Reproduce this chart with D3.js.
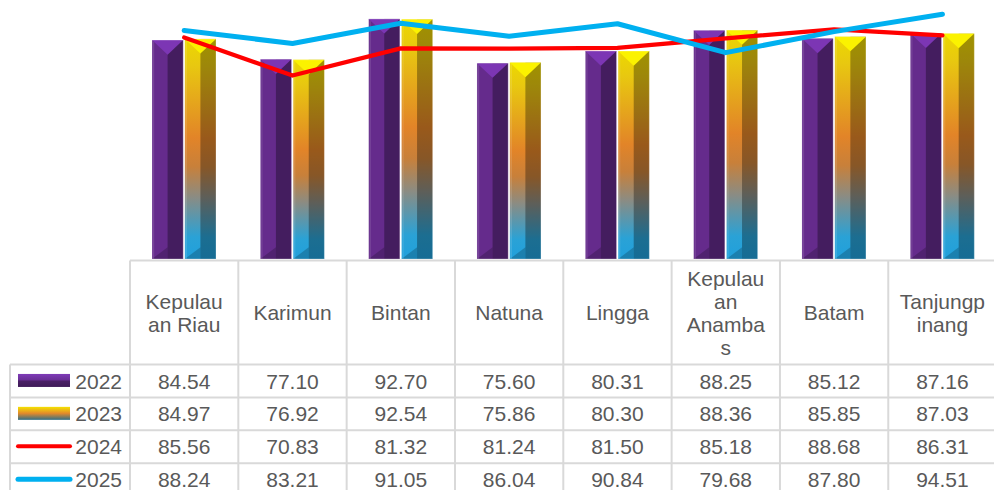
<!DOCTYPE html>
<html>
<head>
<meta charset="utf-8">
<script src="https://cdn.jsdelivr.net/npm/d3@7/dist/d3.min.js"></script>
<style>
  html, body { margin: 0; padding: 0; background: #ffffff; }
  svg { display: block; }
  text { font-family: "Liberation Sans", Arial, sans-serif; fill: #595959; }
</style>
</head>
<body>
<svg id="chart" width="994" height="490"></svg>
<script>
const categories = ["Kepulauan Riau", "Karimun", "Bintan", "Natuna", "Lingga", "Kepulauan Anambas", "Batam", "Tanjungpinang"];
const seriesNames = ["2022", "2023", "2024", "2025"];
const values2022 = [84.54, 77.10, 92.70, 75.60, 80.31, 88.25, 85.12, 87.16];
const values2023 = [84.97, 76.92, 92.54, 75.86, 80.30, 88.36, 85.85, 87.03];
const values2024 = [85.56, 70.83, 81.32, 81.24, 81.50, 85.18, 88.68, 86.31];
const values2025 = [88.24, 83.21, 91.05, 86.04, 90.84, 79.68, 87.80, 94.51];
const yDomain = [0, 100];

const W = 994, H = 490;
const plotLeft = 130, plotRight = 996.6, plotTop = 0, plotBottom = 259;
const tableTop = 260.5, headerBottom = 364.5, rowH = 32.9, legendLeft = 10;
const fs = 21;
const gridColor = "#d9d9d9";

const svg = d3.select("#chart");
const defs = svg.append("defs");

// gradients
const g23 = defs.append("linearGradient").attr("id", "g23")
  .attr("x1", 0).attr("y1", 0).attr("x2", 0).attr("y2", 1);
[[0, "#ecd800"], [0.12, "#e8c810"], [0.45, "#e28428"], [0.58, "#c8803a"], [0.72, "#8a8c84"], [0.9, "#2aa2d6"], [1, "#20a0dc"]]
  .forEach(([o, c]) => g23.append("stop").attr("offset", o).attr("stop-color", c));
const g23k = defs.append("linearGradient").attr("id", "g23k")
  .attr("x1", 0).attr("y1", 0).attr("x2", 0).attr("y2", 1);
[[0, "#f5e200"], [0.5, "#e28a2a"], [1, "#2f6f86"]]
  .forEach(([o, c]) => g23k.append("stop").attr("offset", o).attr("stop-color", c));
const g22k = defs.append("linearGradient").attr("id", "g22k")
  .attr("x1", 0).attr("y1", 0).attr("x2", 0).attr("y2", 1);
[[0, "#7f3bb8"], [0.45, "#6a2f96"], [0.55, "#4a2066"], [1, "#3e1a58"]]
  .forEach(([o, c]) => g22k.append("stop").attr("offset", o).attr("stop-color", c));

const x0 = d3.scaleBand().domain(categories).range([plotLeft, plotRight]).paddingInner(0).paddingOuter(0);
const x1 = d3.scaleBand().domain(["2022", "2023"]).range([22, 86]).paddingInner(0.05);
const y = d3.scaleLinear().domain(yDomain).range([plotBottom, plotTop]);

const barStyles = {
  "2022": { face: "#652b8c", top: "#7c36b4" },
  "2023": { face: "url(#g23)", top: "#fbf200" }
};

function drawBar(g, x, w, v, st) {
  const yt = y(v), yb = y(0);
  const cx = x + w / 2, hb = w * 0.47;
  g.append("rect").attr("x", x).attr("y", yt).attr("width", w).attr("height", yb - yt)
    .attr("fill", st.face);
  // shaded right half
  g.append("rect").attr("x", cx).attr("y", yt).attr("width", w / 2).attr("height", yb - yt)
    .attr("fill", "#000").attr("opacity", 0.32);
  // bottom bevel
  g.append("path").attr("d", `M${x},${yb} L${cx},${yb - w * 0.38} L${cx},${yb} Z`)
    .attr("fill", "#000").attr("opacity", 0.2);
  // left edge highlight
  g.append("rect").attr("x", x + 1).attr("y", yt + hb * 0.1).attr("width", 1.2).attr("height", yb - yt - hb * 0.1)
    .attr("fill", "#fff").attr("opacity", 0.12);
  // top bevel
  g.append("path").attr("d", `M${x},${yt} L${x + w},${yt} L${cx},${yt + hb} Z`)
    .attr("fill", st.top);
  // light outline
  g.append("rect").attr("x", x).attr("y", yt).attr("width", w).attr("height", yb - yt)
    .attr("fill", "none").attr("stroke", "#ffffff").attr("stroke-opacity", 0.35).attr("stroke-width", 0.8);
}

const barSeries = [["2022", values2022], ["2023", values2023]];
const barsG = svg.append("g");
categories.forEach((c, i) => {
  barSeries.forEach(([name, vals]) => {
    drawBar(barsG, x0(c) + x1(name), x1.bandwidth(), vals[i], barStyles[name]);
  });
});

// lines
const lineGen = d3.line()
  .x((d, i) => x0(categories[i]) + x0.bandwidth() / 2)
  .y(d => y(d));
svg.append("path").datum(values2024).attr("d", lineGen)
  .attr("fill", "none").attr("stroke", "#ff0000").attr("stroke-width", 4.2)
  .attr("stroke-linejoin", "round").attr("stroke-linecap", "round");
svg.append("path").datum(values2025).attr("d", lineGen)
  .attr("fill", "none").attr("stroke", "#00b0f0").attr("stroke-width", 5)
  .attr("stroke-linejoin", "round").attr("stroke-linecap", "round");

// table grid
const tg = svg.append("g").attr("stroke", gridColor).attr("stroke-width", 2).attr("fill", "none");
const rowsData = [values2022, values2023, values2024, values2025];
const rowY = i => headerBottom + i * rowH;
tg.append("line").attr("x1", plotLeft).attr("x2", W + 5).attr("y1", tableTop).attr("y2", tableTop);
for (let r = 0; r <= rowsData.length; r++) {
  tg.append("line").attr("x1", legendLeft).attr("x2", W + 5).attr("y1", rowY(r)).attr("y2", rowY(r));
}
tg.append("line").attr("x1", legendLeft).attr("x2", legendLeft).attr("y1", headerBottom).attr("y2", H + 10);
categories.forEach(c => {
  tg.append("line").attr("x1", x0(c)).attr("x2", x0(c)).attr("y1", tableTop).attr("y2", H + 10);
});
tg.append("line").attr("x1", plotRight).attr("x2", plotRight).attr("y1", tableTop).attr("y2", H + 10);

// header labels with wrapping
const maxW = 4.2 * fs;
const measure = svg.append("text").attr("font-size", fs).attr("opacity", 0);
function tw(s) { measure.text(s); return measure.node().getComputedTextLength(); }
function wrap(label) {
  const words = label.split(" ");
  const lines = [];
  let cur = "";
  words.forEach(wd => {
    const trial = cur ? cur + " " + wd : wd;
    if (tw(trial) <= maxW) { cur = trial; return; }
    if (cur) { lines.push(cur); cur = ""; }
    let rest = wd;
    while (tw(rest) > maxW) {
      let k = rest.length;
      while (k > 1 && tw(rest.slice(0, k)) > maxW) k--;
      lines.push(rest.slice(0, k));
      rest = rest.slice(k);
    }
    cur = rest;
  });
  if (cur) lines.push(cur);
  return lines;
}
const lh = 23;
const headerCenter = (tableTop + headerBottom) / 2;
categories.forEach(c => {
  const lines = wrap(c);
  const t = svg.append("text").attr("font-size", fs).attr("text-anchor", "middle");
  const first = headerCenter - (lines.length - 1) * lh / 2 + 0.36 * fs;
  lines.forEach((ln, k) => {
    t.append("tspan").attr("x", x0(c) + x0.bandwidth() / 2).attr("y", first + k * lh).text(ln);
  });
});
measure.remove();

// data cells
rowsData.forEach((vals, r) => {
  const cy = rowY(r) + rowH / 2 + 0.36 * fs;
  vals.forEach((v, i) => {
    svg.append("text").attr("font-size", fs).attr("text-anchor", "middle")
      .attr("x", x0(categories[i]) + x0.bandwidth() / 2).attr("y", cy)
      .text(v.toFixed(2));
  });
  svg.append("text").attr("font-size", fs).attr("text-anchor", "end")
    .attr("x", 122).attr("y", cy).text(seriesNames[r]);
});

// legend keys
const keyCy = r => rowY(r) + rowH / 2 - 0.5;
svg.append("rect").attr("x", 18).attr("y", keyCy(0) - 6.5).attr("width", 52).attr("height", 13)
  .attr("fill", "url(#g22k)");
svg.append("rect").attr("x", 18).attr("y", keyCy(1) - 6.5).attr("width", 52).attr("height", 13)
  .attr("fill", "url(#g23k)");
svg.append("line").attr("x1", 18).attr("x2", 70).attr("y1", keyCy(2)).attr("y2", keyCy(2))
  .attr("stroke", "#ff0000").attr("stroke-width", 4).attr("stroke-linecap", "round");
svg.append("line").attr("x1", 18).attr("x2", 70).attr("y1", keyCy(3)).attr("y2", keyCy(3))
  .attr("stroke", "#00b0f0").attr("stroke-width", 5).attr("stroke-linecap", "round");
</script>
</body>
</html>
